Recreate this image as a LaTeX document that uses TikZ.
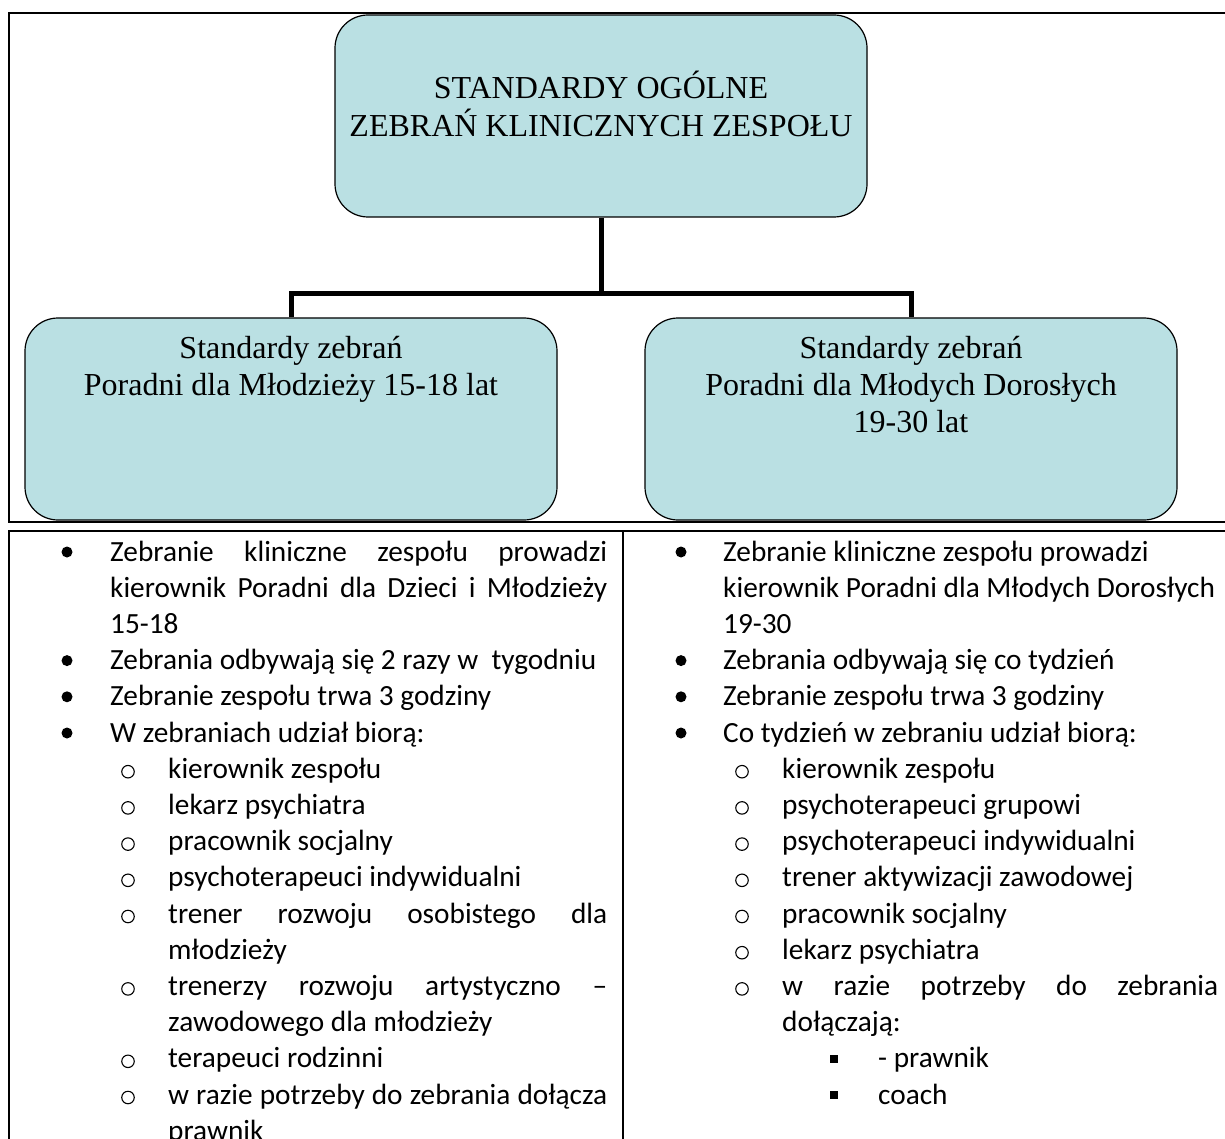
\documentclass[tikz,border=0pt]{standalone}
\usepackage{fontspec}
\setmainfont{Liberation Serif}
\newfontfamily\calfont{Carlito}
\definecolor{boxfill}{RGB}{186,224,227}
\tikzset{
  box/.style={draw=black, line width=1.2pt, fill=boxfill, rounded corners=33pt,
    inner sep=0pt, minimum width=532pt, minimum height=202pt},
  conn/.style={draw=black, line width=5pt},
  frame/.style={draw=black, line width=1.8pt},
  head/.style={font=\fontsize{32}{37}\selectfont, inner sep=0pt, anchor=base},
  txt/.style={font=\calfont\fontsize{29.3}{36}\selectfont, inner sep=0pt, anchor=base west},
  bul/.style={circle, fill=black, inner sep=0pt, minimum size=11pt},
  subb/.style={circle, draw=black, line width=1.1pt, inner sep=0pt, minimum size=12.5pt},
  sqb/.style={rectangle, fill=black, inner sep=0pt, minimum size=8.5pt},
}
\newcommand{\jus}[2]{\hbox to #1pt{#2}}
\begin{document}
\begin{tikzpicture}[x=1pt,y=-1pt]
\useasboundingbox (0,0) rectangle (1225,1139);
\clip (0,0) rectangle (1225,1139);
\fill[white] (0,0) rectangle (1225,1139);

% frames
\draw[frame] (9,13) rectangle (1260,522);
\draw[frame] (9,531) rectangle (1260,1180);
\draw[frame] (623,531) -- (623,1180);

% boxes
\node[box] (top) at (601,116) {};
\node[box] (left) at (291,419) {};
\node[box] (right) at (911,419) {};

\node[head] (t1) at (601,99) {STANDARDY OGÓLNE};
\node[head] (t2) at (601,137) {ZEBRAŃ KLINICZNYCH ZESPOŁU};
\node[head] (l1) at (291,358) {Standardy zebrań};
\node[head] (l2) at (291,395) {Poradni dla Młodzieży 15-18 lat};
\node[head] (r1) at (911,358) {Standardy zebrań};
\node[head] (r2) at (911,395) {Poradni dla Młodych Dorosłych};
\node[head] (r3) at (911,432) {19-30 lat};

% connectors
\coordinate (bar) at (601,294);
\draw[conn] (top.south) -- (bar);
\draw[conn] (left.north) |- (bar) -| (right.north);

% left column
\node[bul] (lb0) at (67,{561+36.2*0-9}) {};
\node[txt] (lt0) at (110,{561+36.2*0}) {\jus{497}{Zebranie\hfill kliniczne\hfill zespołu\hfill prowadzi}};
\node[txt] (lt1) at (110,{561+36.2*1}) {\jus{497}{kierownik\hfill Poradni\hfill dla\hfill Dzieci\hfill i\hfill Młodzieży}};
\node[txt] (lt2) at (110,{561+36.2*2}) {15-18};
\node[bul] (lb3) at (67,{561+36.2*3-9}) {};
\node[txt] (lt3) at (110,{561+36.2*3}) {Zebrania odbywają się 2 razy w\ \ tygodniu};
\node[bul] (lb4) at (67,{561+36.2*4-9}) {};
\node[txt] (lt4) at (110,{561+36.2*4}) {Zebranie zespołu trwa 3 godziny};
\node[bul] (lb5) at (67,{561+36.2*5-9}) {};
\node[txt] (lt5) at (110,{561+36.2*5}) {W zebraniach udział biorą:};
\node[subb] (ls6) at (128,{561+36.2*6-6.5}) {};
\node[txt] (lt6) at (168,{561+36.2*6}) {kierownik zespołu};
\node[subb] (ls7) at (128,{561+36.2*7-6.5}) {};
\node[txt] (lt7) at (168,{561+36.2*7}) {lekarz psychiatra};
\node[subb] (ls8) at (128,{561+36.2*8-6.5}) {};
\node[txt] (lt8) at (168,{561+36.2*8}) {pracownik socjalny};
\node[subb] (ls9) at (128,{561+36.2*9-6.5}) {};
\node[txt] (lt9) at (168,{561+36.2*9}) {psychoterapeuci indywidualni};
\node[subb] (ls10) at (128,{561+36.2*10-6.5}) {};
\node[txt] (lt10) at (168,{561+36.2*10}) {\jus{439}{trener\hfill rozwoju\hfill osobistego\hfill dla}};
\node[txt] (lt11) at (168,{561+36.2*11}) {młodzieży};
\node[subb] (ls12) at (128,{561+36.2*12-6.5}) {};
\node[txt] (lt12) at (168,{561+36.2*12}) {\jus{439}{trenerzy\hfill rozwoju\hfill artystyczno\hfill –}};
\node[txt] (lt13) at (168,{561+36.2*13}) {zawodowego dla młodzieży};
\node[subb] (ls14) at (128,{561+36.2*14-6.5}) {};
\node[txt] (lt14) at (168,{561+36.2*14}) {terapeuci rodzinni};
\node[subb] (ls15) at (128,{561+36.2*15-6.5}) {};
\node[txt] (lt15) at (168,{561+36.2*15}) {\jus{439}{w\hfill razie\hfill potrzeby\hfill do\hfill zebrania\hfill dołącza}};
\node[txt] (lt16) at (168,{561+36.2*16}) {prawnik};

% right column
\node[bul] (rb0) at (681,{561+36.2*0-9}) {};
\node[txt] (rt0) at (723,{561+36.2*0}) {Zebranie kliniczne zespołu prowadzi};
\node[txt] (rt1) at (723,{561+36.2*1}) {kierownik Poradni dla Młodych Dorosłych};
\node[txt] (rt2) at (723,{561+36.2*2}) {19-30};
\node[bul] (rb3) at (681,{561+36.2*3-9}) {};
\node[txt] (rt3) at (723,{561+36.2*3}) {Zebrania odbywają się co tydzień};
\node[bul] (rb4) at (681,{561+36.2*4-9}) {};
\node[txt] (rt4) at (723,{561+36.2*4}) {Zebranie zespołu trwa 3 godziny};
\node[bul] (rb5) at (681,{561+36.2*5-9}) {};
\node[txt] (rt5) at (723,{561+36.2*5}) {Co tydzień w zebraniu udział biorą:};
\node[subb] (rs6) at (742,{561+36.2*6-6.5}) {};
\node[txt] (rt6) at (782,{561+36.2*6}) {kierownik zespołu};
\node[subb] (rs7) at (742,{561+36.2*7-6.5}) {};
\node[txt] (rt7) at (782,{561+36.2*7}) {psychoterapeuci grupowi};
\node[subb] (rs8) at (742,{561+36.2*8-6.5}) {};
\node[txt] (rt8) at (782,{561+36.2*8}) {psychoterapeuci indywidualni};
\node[subb] (rs9) at (742,{561+36.2*9-6.5}) {};
\node[txt] (rt9) at (782,{561+36.2*9}) {trener aktywizacji zawodowej};
\node[subb] (rs10) at (742,{561+36.2*10-6.5}) {};
\node[txt] (rt10) at (782,{561+36.2*10}) {pracownik socjalny};
\node[subb] (rs11) at (742,{561+36.2*11-6.5}) {};
\node[txt] (rt11) at (782,{561+36.2*11}) {lekarz psychiatra};
\node[subb] (rs12) at (742,{561+36.2*12-6.5}) {};
\node[txt] (rt12) at (782,{561+36.2*12}) {\jus{436}{w\hfill razie\hfill potrzeby\hfill do\hfill zebrania}};
\node[txt] (rt13) at (782,{561+36.2*13}) {dołączają:};
\node[sqb] (rq14) at (834,{561+36.2*14-9}) {};
\node[txt] (rt14) at (878,{561+36.2*14}) {- prawnik};
\node[sqb] (rq15) at (834,{561+36.2*15-9}) {};
\node[txt] (rt15) at (878,{561+36.2*15}) {coach};
\end{tikzpicture}
\end{document}
